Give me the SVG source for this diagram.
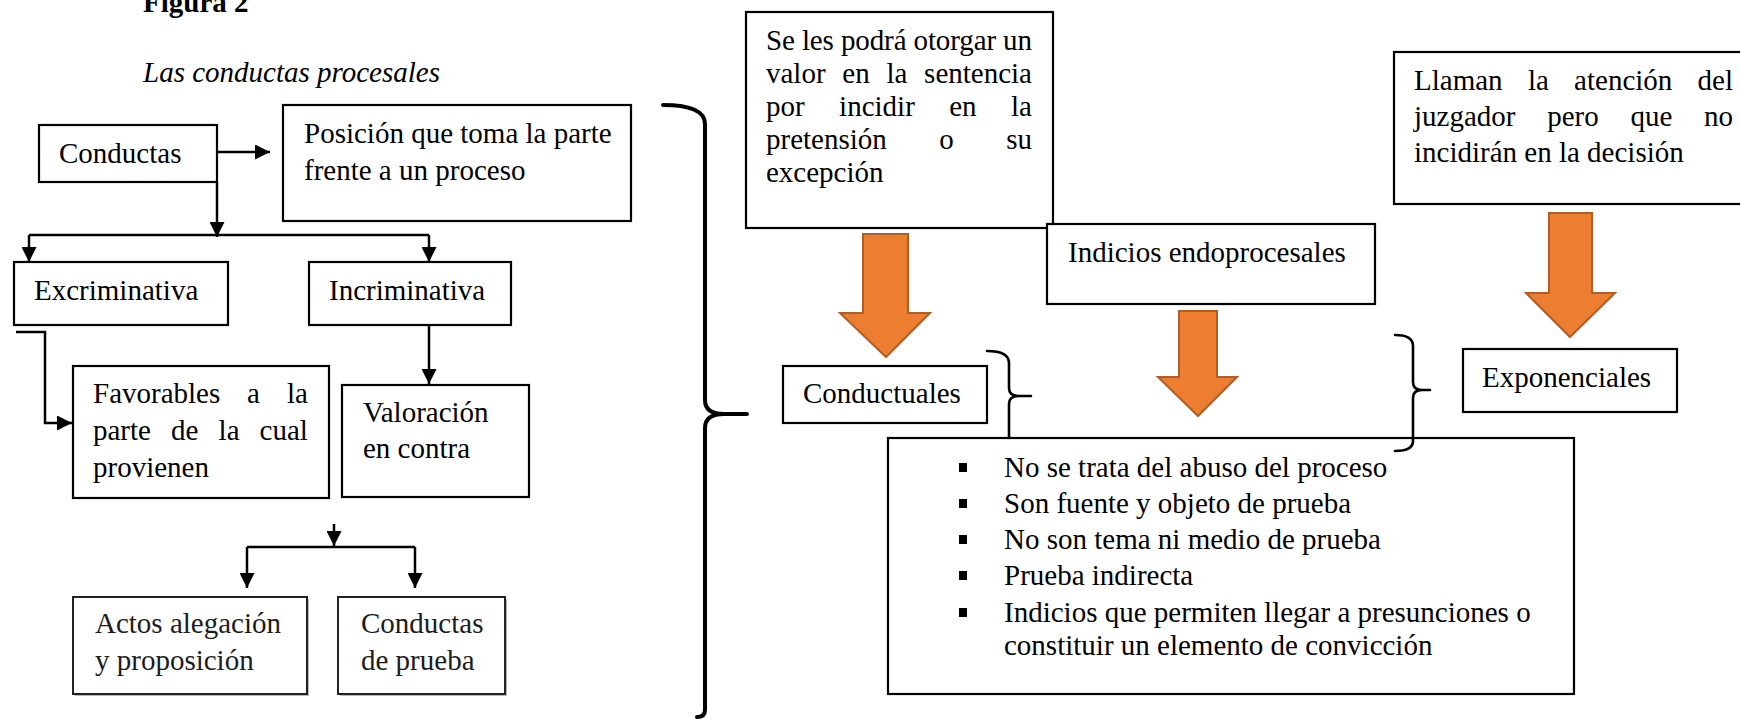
<svg xmlns="http://www.w3.org/2000/svg" width="1740" height="719" viewBox="0 0 1740 719">
<style>
text{font-family:"Liberation Serif","Times New Roman",serif;font-size:29px;fill:#000}
.box{fill:#fff;stroke:#000;stroke-width:2.2}
.box2{fill:#fff;stroke:#222;stroke-width:2}
.ln{fill:none;stroke:#000;stroke-width:2.5}
.br{fill:none;stroke:#000;stroke-width:2.6;stroke-linecap:round}
.brb{fill:none;stroke:#000;stroke-width:4;stroke-linecap:round}
.big{fill:#ED7D31;stroke:#B05E25;stroke-width:2}
.soft{fill:#1c1c1c;font-size:29px}
</style>
<defs>
<marker id="ah" viewBox="0 0 15 15" refX="15" refY="7.5" markerWidth="15" markerHeight="15" orient="auto" markerUnits="userSpaceOnUse"><path d="M0,0 L15,7.5 L0,15 Z" fill="#000"/></marker>
</defs>
<rect width="1740" height="719" fill="#fff"/>
<text x="143" y="12" font-weight="bold" font-size="32">Figura 2</text>
<text x="143" y="82" font-style="italic" font-size="30">Las conductas procesales</text>

<g id="n-conductas"><rect class="box" x="39" y="125" width="178" height="57"/><text x="59" y="163">Conductas</text></g>
<g id="n-posicion"><rect class="box" x="283" y="105" width="348" height="116"/><text x="304" y="143">Posición que toma la parte</text><text x="304" y="180">frente a un proceso</text></g>
<g id="n-excriminativa"><rect class="box" x="14" y="262" width="214" height="63"/><text x="34" y="300">Excriminativa</text></g>
<g id="n-incriminativa"><rect class="box" x="309" y="262" width="202" height="63"/><text x="329" y="300">Incriminativa</text></g>
<g id="n-favorables"><rect class="box" x="73" y="366" width="256" height="132"/>
<text y="403"><tspan x="93">Favorables</tspan><tspan x="247">a</tspan><tspan x="287">la</tspan></text>
<text y="440"><tspan x="93">parte</tspan><tspan x="171">de</tspan><tspan x="218.6">la</tspan><tspan x="259.6">cual</tspan></text>
<text x="93" y="477">provienen</text></g>
<g id="n-valoracion"><rect class="box" x="342" y="385" width="187" height="112"/><text x="363" y="422">Valoración</text><text x="363" y="458">en contra</text></g>
<g id="n-actos"><rect x="75" y="599" width="234" height="97" fill="#bbb"/><rect class="box2" x="73" y="597" width="234" height="97"/><text class="soft" x="95" y="633">Actos alegación</text><text class="soft" x="95" y="670">y proposición</text></g>
<g id="n-conductas-prueba"><rect x="340" y="599" width="167" height="97" fill="#bbb"/><rect class="box2" x="338" y="597" width="167" height="97"/><text class="soft" x="361" y="633">Conductas</text><text class="soft" x="361" y="670">de prueba</text></g>

<g id="n-seles"><rect class="box" x="746" y="12" width="307" height="216"/>
<text x="766" y="50" textLength="266" lengthAdjust="spacing">Se les podrá otorgar un</text>
<text y="83"><tspan x="766">valor</tspan><tspan x="842.3">en</tspan><tspan x="886.4">la</tspan><tspan x="1032" text-anchor="end">sentencia</tspan></text>
<text y="116"><tspan x="766">por</tspan><tspan x="839.1">incidir</tspan><tspan x="949.2">en</tspan><tspan x="1032" text-anchor="end">la</tspan></text>
<text y="149"><tspan x="766">pretensión</tspan><tspan x="939.3">o</tspan><tspan x="1032" text-anchor="end">su</tspan></text>
<text x="766" y="182">excepción</text></g>
<g id="n-indicios"><rect class="box" x="1047" y="224" width="328" height="80"/><text x="1068" y="262">Indicios endoprocesales</text></g>
<g id="n-llaman"><rect class="box" x="1394" y="52" width="360" height="152"/>
<text y="90"><tspan x="1414">Llaman</tspan><tspan x="1527.9">la</tspan><tspan x="1574.1">atención</tspan><tspan x="1733" text-anchor="end">del</tspan></text>
<text y="126"><tspan x="1414">juzgador</tspan><tspan x="1547.2">pero</tspan><tspan x="1630.4">que</tspan><tspan x="1733" text-anchor="end">no</tspan></text>
<text x="1414" y="162">incidirán en la decisión</text></g>
<g id="n-conductuales"><rect class="box" x="783" y="366" width="204" height="57"/><text x="803" y="403">Conductuales</text></g>
<g id="n-exponenciales"><rect class="box" x="1463" y="349" width="214" height="63"/><text x="1482" y="387">Exponenciales</text></g>
<g id="n-lista"><rect class="box" x="888" y="438" width="686" height="256"/>
<g fill="#000"><rect x="959" y="463" width="8" height="9"/><rect x="959" y="499" width="8" height="9"/><rect x="959" y="535" width="8" height="9"/><rect x="959" y="571" width="8" height="9"/><rect x="959" y="608" width="8" height="9"/></g>
<text x="1004" y="477">No se trata del abuso del proceso</text>
<text x="1004" y="513">Son fuente y objeto de prueba</text>
<text x="1004" y="549">No son tema ni medio de prueba</text>
<text x="1004" y="585">Prueba indirecta</text>
<text x="1004" y="622">Indicios que permiten llegar a presunciones o</text>
<text x="1004" y="655">constituir un elemento de convicción</text></g>

<g id="connectors">
<path class="ln" d="M217,152 H270" marker-end="url(#ah)"/>
<path class="ln" d="M217,182 V237" marker-end="url(#ah)"/>
<path class="ln" d="M29,235 H429"/>
<path class="ln" d="M29,235 V262" marker-end="url(#ah)"/>
<path class="ln" d="M429,235 V262" marker-end="url(#ah)"/>
<path class="ln" d="M16,332 H45 V423 H72" marker-end="url(#ah)"/>
<path class="ln" d="M429,325 V384" marker-end="url(#ah)"/>
<path class="ln" d="M334,524 V546" marker-end="url(#ah)"/>
<path class="ln" d="M247,547 H415"/>
<path class="ln" d="M247,547 V588" marker-end="url(#ah)"/>
<path class="ln" d="M415,547 V588" marker-end="url(#ah)"/>
<path class="brb" d="M663,105 Q705,105 705,124 L705,400 Q705,414 724,414 L747,414 M724,414 Q705,414 705,428 L705,710 Q705,717 697,717"/>
<path class="br" d="M987,351 Q1009,351 1009,363 L1009,388 Q1009,396 1019,396 L1031,396 M1019,396 Q1009,396 1009,404 L1009,438"/>
<path class="br" d="M1395,335 Q1413,335 1413,346 L1413,382 Q1413,390 1422,390 L1430,390 M1422,390 Q1413,390 1413,398 L1413,441 Q1413,451 1395,451"/>
<path class="big" d="M863,234 H908 V313 H930 L886,357 L840,313 H863 Z"/>
<path class="big" d="M1179,311 H1217 V377 H1237 L1198,416 L1158,377 H1179 Z"/>
<path class="big" d="M1549,213 H1592 V293 H1615 L1570,337 L1526,293 H1549 Z"/>
</g>
</svg>
